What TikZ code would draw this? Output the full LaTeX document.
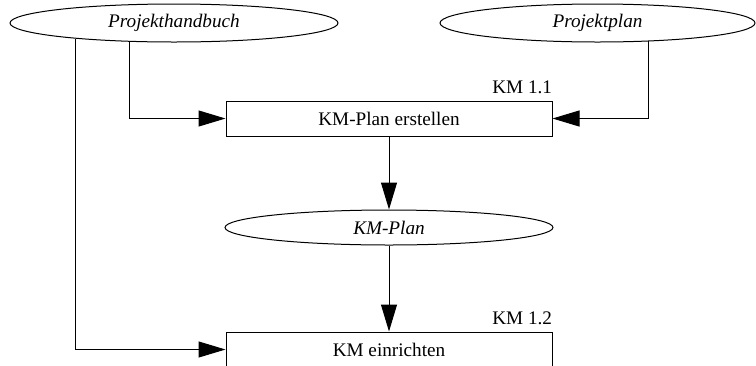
\documentclass[tikz,border=0pt]{standalone}
\usepackage{fontspec}
\setmainfont{Liberation Serif}
\usepackage{tikz}
\usetikzlibrary{shapes.geometric,arrows.meta,positioning}

\begin{document}
\begin{tikzpicture}[
    x=0.5pt, y=-0.5pt,
    font=\fontsize{9.6}{11.5}\selectfont,
    doc/.style={ellipse, draw=black, line width=0.5pt, minimum width=164pt, minimum height=19pt, inner sep=0pt, font=\fontsize{9.6}{11.5}\selectfont\itshape},
    task/.style={rectangle, draw=black, line width=0.5pt, minimum width=163pt, minimum height=17.5pt, inner sep=0pt},
    tag/.style={anchor=south east, inner xsep=0pt, inner ysep=3pt},
    arrow/.style={line width=0.5pt, -{Triangle[length=13.5pt, width=8pt]}}
]
\useasboundingbox (0,0) rectangle (756,365);
\clip (0,0) rectangle (756,365);
% Input documents
\node[doc] (handbuch) at (174,23) {Projekthandbuch};
\node[doc, minimum width=157.5pt] (projektplan) at (597.5,23) {Projektplan};
% KM 1.1
\node[task] (erstellen) at (389,118.5) {KM-Plan erstellen};
\node[tag] (km11) at (erstellen.north east) {KM 1.1};
% Result
\node[doc, minimum height=17.5pt, below of=erstellen, node distance=54.5pt] (kmplan) {KM-Plan};
% KM 1.2
\node[task, below of=kmplan, node distance=61pt] (einrichten) {KM einrichten};
\node[tag] (km12) at (einrichten.north east) {KM 1.2};
% Arrows
\draw[arrow] (handbuch.203.6) |- (erstellen.west);
\draw[arrow] (projektplan.340) |- (erstellen.east);
\draw[arrow] (erstellen) -- (kmplan);
\draw[arrow] (kmplan) -- (einrichten);
\draw[arrow] (handbuch.189.55) |- (einrichten.west);
\end{tikzpicture}
\end{document}
